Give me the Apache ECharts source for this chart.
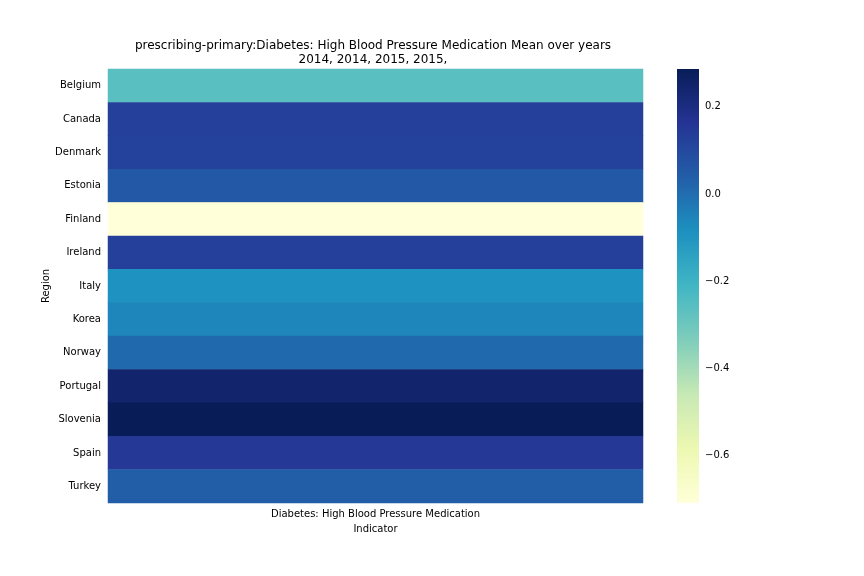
<!DOCTYPE html>
<html>
<head>
<meta charset="utf-8">
<script src="https://cdn.jsdelivr.net/npm/echarts@6/dist/echarts.min.js"></script>
<style>html,body{margin:0;padding:0;background:#fff}#c{width:864px;height:576px}</style>
</head>
<body>
<div id="c"></div>
<script>
var regions = ['Belgium','Canada','Denmark','Estonia','Finland','Ireland','Italy','Korea','Norway','Portugal','Slovenia','Spain','Turkey'];
var indicators = ['Diabetes: High Blood Pressure Medication'];
var values = [-0.26, 0.127, 0.12, 0.055, -0.71, 0.127, -0.09, -0.06, 0.012, 0.245, 0.287, 0.15, 0.04];
var colorTicks = [-0.6, -0.4, -0.2, 0.0, 0.2];
var vMin = -0.71, vMax = 0.287;
var ylgnbu = ['#ffffd9','#edf8b1','#c7e9b4','#7fcdbb','#41b6c4','#1d91c0','#225ea8','#253494','#081d58'];

var data = [];
for (var i = 0; i < regions.length; i++) data.push([0, i, values[i]]);

function fmt(v){ return (Math.abs(v) < 1e-9 ? '0.0' : v.toFixed(1)).replace('-', '\u2212'); }

var stops = [];
for (var k = 0; k < ylgnbu.length; k++) stops.push({ offset: k / (ylgnbu.length - 1), color: ylgnbu[ylgnbu.length - 1 - k] });

var chart = echarts.init(document.getElementById('c'));
chart.setOption({
  animation: false,
  backgroundColor: '#fff',
  textStyle: { fontFamily: 'DejaVu Sans' },
  title: {
    text: 'prescribing-primary:Diabetes: High Blood Pressure Medication Mean over years\n2014, 2014, 2015, 2015,',
    left: 368, top: 34, textAlign: 'center',
    textStyle: { fontSize: 12, fontWeight: 'normal', color: '#000', lineHeight: 14, fontFamily: 'DejaVu Sans' }
  },
  grid: [
    { left: 108, right: 221, top: 69, bottom: 73 },
    { left: 677, width: 22, top: 69, bottom: 73 }
  ],
  xAxis: [
    { type: 'category', gridIndex: 0, data: indicators,
      name: 'Indicator', nameLocation: 'middle', nameGap: 21, nameMoveOverlap: false,
      nameTextStyle: { fontSize: 10, color: '#000' },
      axisLine: { show: false },
      axisTick: { alignWithLabel: true, length: 3.5, lineStyle: { color: '#000' } },
      axisLabel: { fontSize: 10, color: '#000', margin: 6 },
      splitLine: { show: false } },
    { type: 'value', gridIndex: 1, show: false, min: 0, max: 1 }
  ],
  yAxis: [
    { type: 'category', gridIndex: 0, data: regions, inverse: true,
      name: 'Region', nameLocation: 'middle', nameGap: 57, nameMoveOverlap: false,
      nameTextStyle: { fontSize: 10, color: '#000' },
      axisLine: { show: false },
      axisTick: { alignWithLabel: true, length: 3.5, lineStyle: { color: '#000' } },
      axisLabel: { fontSize: 10, color: '#000', margin: 7 },
      splitLine: { show: false } },
    { type: 'value', gridIndex: 1, position: 'right', min: vMin, max: vMax,
      axisLine: { show: false },
      axisTick: { show: true, length: 3.5, customValues: colorTicks, lineStyle: { color: '#000' } },
      axisLabel: { fontSize: 10, color: '#000', margin: 6, customValues: colorTicks, formatter: fmt },
      splitLine: { show: false } }
  ],
  visualMap: {
    type: 'continuous', min: vMin, max: vMax, show: false,
    seriesIndex: 0, inRange: { color: ylgnbu }
  },
  graphic: [{
    type: 'rect', left: 677, top: 69, z: 1,
    shape: { width: 22, height: 434 },
    style: { fill: { type: 'linear', x: 0, y: 0, x2: 0, y2: 1, colorStops: stops } }
  }],
  series: [{
    type: 'heatmap', xAxisIndex: 0, yAxisIndex: 0, data: data,
    itemStyle: { borderWidth: 0 }, emphasis: { disabled: true }
  }]
});
</script>
</body>
</html>
